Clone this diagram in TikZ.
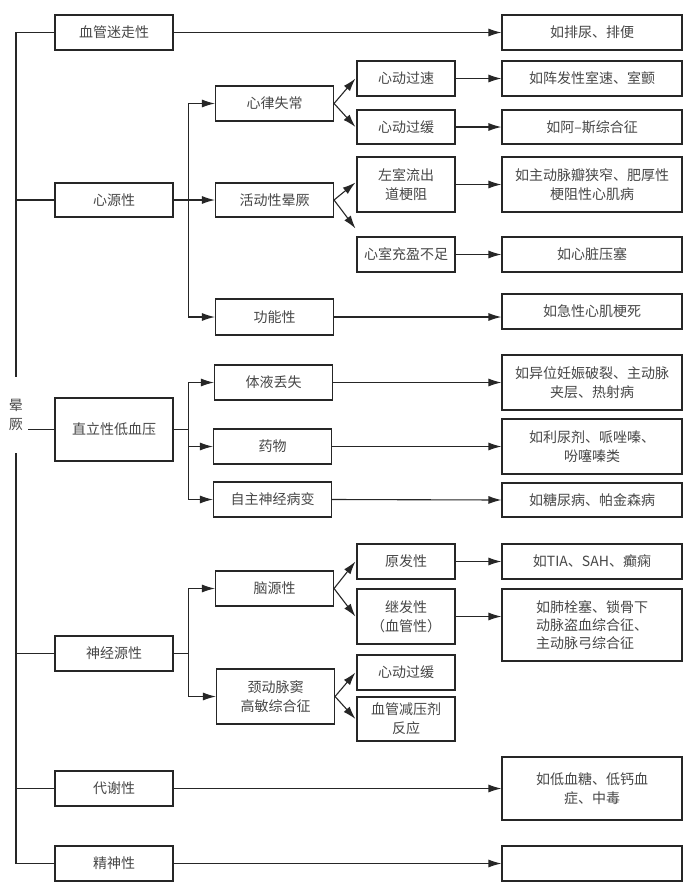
\documentclass[tikz,border=0pt]{standalone}
\usepackage{fontspec}
\setmainfont{Noto Sans CJK SC}
\usetikzlibrary{arrows.meta}
\begin{document}
\begin{tikzpicture}[x=1pt,y=-1pt,
  box/.style={draw=black!85, line width=1.1pt, rectangle, inner sep=0pt, align=center,
    text=black!72, font=\fontsize{14}{19}\selectfont},
  lbox/.style={box, minimum width=118pt},
  mbox/.style={box, minimum width=118pt},
  tbox/.style={box, minimum width=98pt},
  rbox/.style={box, minimum width=180pt},
  ln/.style={line width=1.1pt, draw=black!85},
  arr/.style={ln, -{Latex[length=13pt,width=8pt]}}]
\useasboundingbox[fill=white] (0,0) rectangle (693,892);

% left column
\node[lbox, minimum height=35pt] (xgmz) at (114,32.5) {血管迷走性};
\node[lbox, minimum height=34pt] (xyx) at (114,200) {心源性};
\node[lbox, minimum height=63pt] (zl) at (114,429.5) {直立性低血压};
\node[lbox, minimum height=35pt] (sjy) at (114,653.5) {神经源性};
\node[lbox, minimum height=35pt] (dx) at (114,788.5) {代谢性};
\node[lbox, minimum height=35pt] (jsx) at (114,863.5) {精神性};

% middle column
\node[mbox, minimum height=35pt] (xlsc) at (274.5,103.5) {心律失常};
\node[mbox, minimum height=34pt] (hd) at (274.5,200) {活动性晕厥};
\node[mbox, minimum height=36pt] (gn) at (274.5,317) {功能性};
\node[mbox, minimum height=35pt] (ty) at (273.5,382.5) {体液丢失};
\node[mbox, minimum height=35pt] (yw) at (272.5,446.5) {药物};
\node[mbox, minimum height=35pt] (zz) at (272.5,499.5) {自主神经病变};
\node[mbox, minimum height=35pt] (ny) at (274.5,588.5) {脑源性};
\node[mbox, minimum height=55pt] (jd) at (275.5,696.5) {颈动脉窦\\高敏综合征};

% third column
\node[tbox, minimum height=35pt] (xdgs) at (406,78.5) {心动过速};
\node[tbox, minimum height=34pt] (xdgh) at (406,127) {心动过缓};
\node[tbox, minimum height=55pt] (zs) at (406,184.5) {左室流出\\道梗阻};
\node[tbox, minimum height=35pt] (xs) at (406,254.5) {心室充盈不足};
\node[tbox, minimum height=35pt] (yf) at (406,561.5) {原发性};
\node[tbox, minimum height=55pt] (jf) at (406,616.5) {继发性\\（血管性）};
\node[tbox, minimum height=35pt] (xdgh2) at (406,672.5) {心动过缓};
\node[tbox, minimum height=44pt] (xgjy) at (406,719) {血管减压剂\\反应};

% right column
\node[rbox, minimum height=35pt] (r1) at (592,32.5) {如排尿、排便};
\node[rbox, minimum height=35pt] (r2) at (592,78.5) {如阵发性室速、室颤};
\node[rbox, minimum height=34pt] (r3) at (592,127) {如阿–斯综合征};
\node[rbox, minimum height=55pt] (r4) at (592,184.5) {如主动脉瓣狭窄、肥厚性\\梗阻性心肌病};
\node[rbox, minimum height=35pt] (r5) at (592,254.5) {如心脏压塞};
\node[rbox, minimum height=35pt] (r6) at (592,311.5) {如急性心肌梗死};
\node[rbox, minimum height=55pt] (r7) at (592,382.5) {如异位妊娠破裂、主动脉\\夹层、热射病};
\node[rbox, minimum height=55pt] (r8) at (592,446.5) {如利尿剂、哌唑嗪、\\吩噻嗪类};
\node[rbox, minimum height=34pt] (r9) at (592,500) {如糖尿病、帕金森病};
\node[rbox, minimum height=35pt] (r10) at (592,561.5) {如TIA、SAH、癫痫};
\node[rbox, minimum height=72pt, align=left, font=\fontsize{14}{18}\selectfont] (r11) at (592,625) {如肺栓塞、锁骨下\\动脉盗血综合征、\\主动脉弓综合征};
\node[rbox, minimum height=63pt] (r12) at (592,788.5) {如低血糖、低钙血\\症、中毒};
\node[rbox, minimum height=35pt] (r13) at (592,863.5) {};

% root label and trunk
\node[inner sep=0pt, minimum height=76pt, align=center, text=black!72,
  font=\fontsize{14}{19}\selectfont] (yj) at (16,415) {晕\\厥};
\draw[ln] (yj.north) |- (xgmz.west);
\draw[ln] (yj.south) |- (jsx.west);
\draw[ln] (yj.north |- xyx.west) -- (xyx.west);
\draw[ln] (yj.south |- sjy.west) -- (sjy.west);
\draw[ln] (yj.south |- dx.west) -- (dx.west);
\draw[ln] ([xshift=5pt]yj.east |- zl.west) -- (zl.west);

% branches from left column
\coordinate (b1) at ([xshift=15pt]xyx.east);
\draw[arr] (xyx.east) -- (hd.west);
\draw[arr] (b1) |- (xlsc.west);
\draw[arr] (b1) |- (gn.west);

\coordinate (b2) at ([xshift=15pt]zl.east);
\draw[ln] (zl.east) -- (b2);
\draw[arr] (b2) |- (ty.west);
\draw[arr] (b2) |- (yw.west);
\draw[arr] (b2) |- (zz.west);

\coordinate (b3) at ([xshift=15pt]sjy.east);
\draw[ln] (sjy.east) -- (b3);
\draw[arr] (b3) |- (ny.west);
\draw[arr] (b3) |- (jd.west);

% diagonal splits
\draw[arr] (xlsc.east) -- ([xshift=-1pt]xdgs.west);
\draw[arr] (xlsc.east) -- ([xshift=-1pt]xdgh.west);
\draw[arr] (hd.east) -- ([xshift=-1pt,yshift=2pt]zs.west);
\draw[arr] (hd.east) -- ([xshift=-1pt,yshift=8pt]xs.north west);
\draw[arr] (ny.east) -- ([xshift=-1pt]yf.west);
\draw[arr] (ny.east) -- ([xshift=-1pt]jf.west);
\draw[arr] (jd.east) -- ([xshift=-1pt]xdgh2.west);
\draw[arr] (jd.east) -- ([xshift=-1pt]xgjy.west);

% horizontal arrows to the examples
\draw[arr] (xgmz.east) -- (r1.west);
\draw[arr] (xdgs.east) -- (r2.west);
\draw[arr] (xdgh.east) -- (r3.west);
\draw[arr] (zs.east) -- (r4.west);
\draw[arr] (xs.east) -- (r5.west);
\draw[arr] (gn.east) -- (gn.east -| r6.west);
\draw[arr] (ty.east) -- (r7.west);
\draw[arr] (yw.east) -- (r8.west);
\draw[arr] (zz.east) -- (r9.west);
\draw[arr] (yf.east) -- (r10.west);
\draw[arr] (jf.east) -- (jf.east -| r11.west);
\draw[arr] (dx.east) -- (r12.west);
\draw[arr] (jsx.east) -- (r13.west);
\end{tikzpicture}
\end{document}
